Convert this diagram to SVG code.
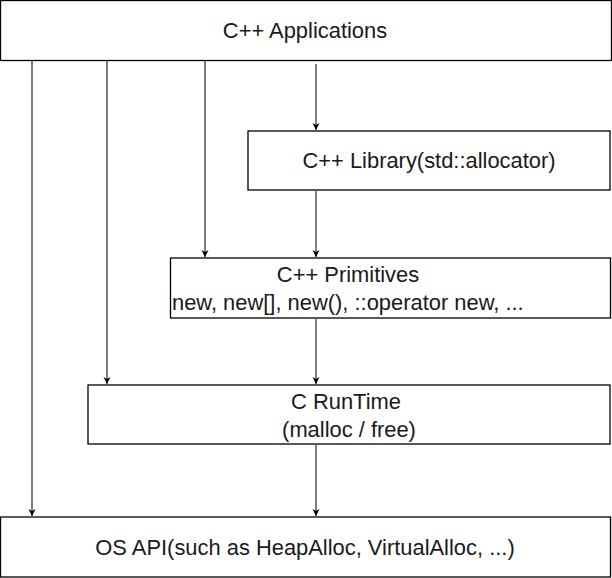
<svg xmlns="http://www.w3.org/2000/svg" width="612" height="578" viewBox="0 0 612 578">
<style>
.box{fill:#fff;stroke:#000;stroke-width:1.3}
.t{font-family:"Liberation Sans",Arial,sans-serif;font-size:21.9px;fill:#1a1a1a;text-anchor:middle;dominant-baseline:central}
.c{fill:none;stroke:#000;stroke-width:1}
</style>
<defs>
<marker id="ah" markerWidth="8" markerHeight="8" refX="7" refY="4" orient="auto" markerUnits="userSpaceOnUse">
<path d="M0,0.5 L7,4 L0,7.5 L2,4 Z" fill="#000"/>
</marker>
</defs>
<rect width="612" height="578" fill="#fff"/>
<g id="connectors">
<line class="c" x1="32" y1="61" x2="32" y2="516" marker-end="url(#ah)"/>
<line class="c" x1="107" y1="61" x2="107" y2="384" marker-end="url(#ah)"/>
<line class="c" x1="205" y1="61" x2="205" y2="257" marker-end="url(#ah)"/>
<line class="c" x1="316" y1="64" x2="316" y2="130" marker-end="url(#ah)"/>
<line class="c" x1="316" y1="191" x2="316" y2="257" marker-end="url(#ah)"/>
<line class="c" x1="316" y1="319" x2="316" y2="384" marker-end="url(#ah)"/>
<line class="c" x1="316" y1="445" x2="316" y2="516" marker-end="url(#ah)"/>
</g>
<g id="apps">
<rect class="box" x="0.5" y="0.5" width="611" height="60"/>
<text class="t" x="305" y="30">C++ Applications</text>
</g>
<g id="library">
<rect class="box" x="248" y="131" width="362" height="59"/>
<text class="t" x="429" y="160">C++ Library(std::allocator)</text>
</g>
<g id="primitives">
<rect class="box" x="170.5" y="258" width="440" height="60"/>
<text class="t" x="348" y="274">C++ Primitives</text>
<text class="t" x="172" y="302" style="text-anchor:start">new, new[], new(), ::operator new, ...</text>
</g>
<g id="runtime">
<rect class="box" x="88" y="385" width="522" height="59"/>
<text class="t" x="346" y="401">C RunTime</text>
<text class="t" x="349" y="429">(malloc / free)</text>
</g>
<g id="osapi">
<rect class="box" x="0.5" y="517" width="610" height="60"/>
<text class="t" x="305" y="547">OS API(such as HeapAlloc, VirtualAlloc, ...)</text>
</g>
</svg>
